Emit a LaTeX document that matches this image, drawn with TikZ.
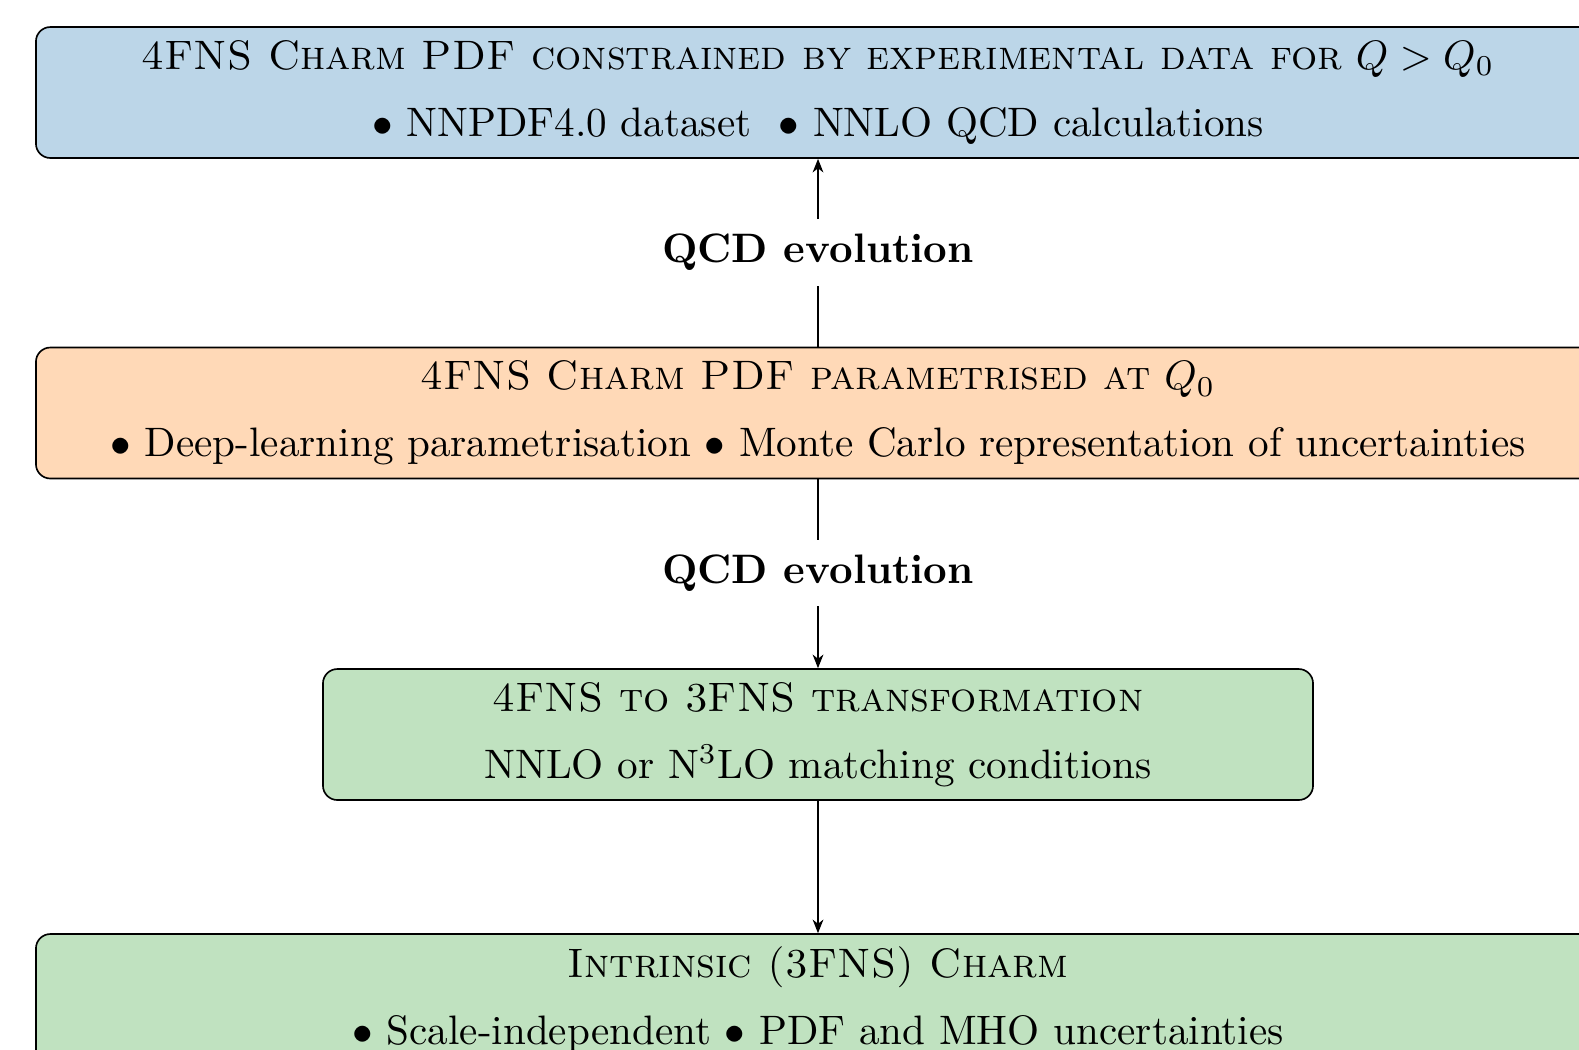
\documentclass[tikz,border=0pt]{standalone}
\usetikzlibrary{arrows.meta}

\definecolor{tabblue}{RGB}{31,119,180}
\definecolor{taborange}{RGB}{255,127,14}
\definecolor{tabgreen}{RGB}{44,160,44}

\tikzset{
  stagebox/.style={draw=black, line width=0.4pt, rounded corners=3.5pt,
    align=center, inner sep=0pt, minimum height=31.83pt},
  widebox/.style={stagebox, minimum width=380.1pt},
  evolabel/.style={font=\bfseries, inner sep=0pt, minimum height=15.8pt},
  flow/.style={line width=0.4pt, -{Stealth[length=3.3pt,width=2.6pt,inset=1pt]}},
  plain/.style={line width=0.4pt},
}

\begin{document}
\begin{tikzpicture}[x=0.24301pt, y=-0.24301pt]
\useasboundingbox (0,0) rectangle (1579,1049);
\clip (0,0) rectangle (1579,1049);

% stages
\node[widebox, fill=tabblue!30!white] (fit4) at (818,92.5)
  {\textsc{4FNS Charm PDF constrained by experimental data for} $Q > Q_0$\\[4.2pt]
   $\bullet$ NNPDF4.0 dataset~ $\bullet$ NNLO QCD calculations};

\node[widebox, fill=taborange!30!white] (par4) at (818,413)
  {\textsc{4FNS Charm PDF parametrised at} $Q_0$\\[4.2pt]
   $\bullet$ Deep-learning parametrisation $\bullet$ Monte Carlo representation of uncertainties};

\node[stagebox, minimum width=240.6pt, fill=tabgreen!30!white] (trans) at (818,734.5)
  {\textsc{4FNS to 3FNS transformation}\\[4.2pt]
   NNLO or N$^3$LO matching conditions};

\node[widebox, fill=tabgreen!30!white] (ic) at (818,999.5)
  {\textsc{Intrinsic (3FNS) Charm}\\[4.2pt]
   $\bullet$ Scale-independent $\bullet$ PDF and MHO uncertainties};

% evolution labels
\node[evolabel] (evo1) at (818,252.5) {QCD evolution};
\node[evolabel] (evo2) at (818,573) {QCD evolution};

% connectors
\draw[plain] (par4.north) -- (evo1.south);
\draw[flow] (evo1.north) -- (fit4.south);
\draw[plain] (par4.south) -- (evo2.north);
\draw[flow] (evo2.south) -- (trans.north);
\draw[flow] (trans.south) -- (ic.north);
\end{tikzpicture}
\end{document}
